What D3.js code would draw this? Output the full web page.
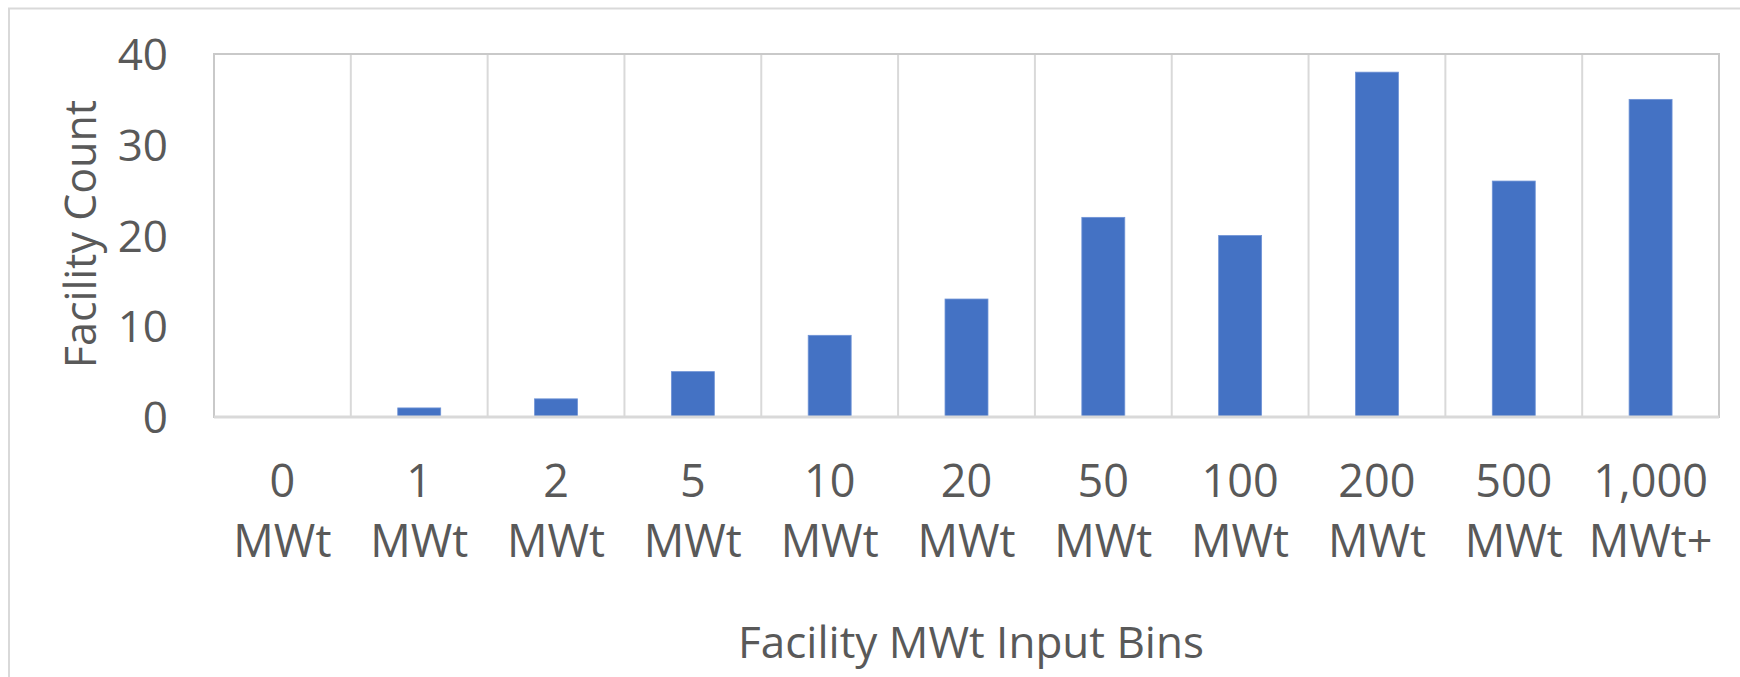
<!DOCTYPE html>
<html>
<head>
    <title>Facility MWt Input Bins</title>
    <style>
        body { margin: 0; background: white; }
        text { font-family: "Open Sans", sans-serif; fill: #595959; }
    </style>
</head>
<body>
    <svg width="1740" height="677"></svg>

    <script src="https://cdn.jsdelivr.net/npm/d3@7"></script>
    <script>
        const binNumbers = ["0", "1", "2", "5", "10", "20", "50", "100", "200", "500", "1,000"];
        const binUnits = ["MWt", "MWt", "MWt", "MWt", "MWt", "MWt", "MWt", "MWt", "MWt", "MWt", "MWt+"];
        const counts = [0, 1, 2, 5, 9, 13, 22, 20, 38, 26, 35];
        const yTicks = [0, 10, 20, 30, 40];

        const svg = d3.select("svg");

        const plotLeft = 214, plotRight = 1719, plotTop = 54, plotBottom = 417;

        // outer chart frame
        svg.append("rect")
            .attr("x", 9).attr("y", 8.5)
            .attr("width", 1760).attr("height", 700)
            .attr("fill", "none")
            .attr("stroke", "#d9d9d9")
            .attr("stroke-width", 2);

        const x = d3.scaleBand()
            .domain(d3.range(counts.length))
            .range([plotLeft, plotRight])
            .padding(0);

        const y = d3.scaleLinear()
            .domain([0, 40])
            .range([plotBottom, plotTop]);

        // vertical gridlines at band edges
        svg.selectAll(".grid")
            .data(d3.range(1, counts.length))
            .enter().append("line")
            .attr("class", "grid")
            .attr("x1", d => x(d)).attr("x2", d => x(d))
            .attr("y1", plotTop).attr("y2", plotBottom)
            .attr("stroke", "#d9d9d9")
            .attr("stroke-width", 2);

        // plot area border
        svg.append("rect")
            .attr("x", plotLeft).attr("y", plotTop)
            .attr("width", plotRight - plotLeft).attr("height", plotBottom - plotTop)
            .attr("fill", "none")
            .attr("stroke", "#c9c9c9")
            .attr("stroke-width", 2);

        const barW = x.bandwidth() * 0.314;

        svg.selectAll(".bar")
            .data(counts)
            .enter().append("rect")
            .attr("class", "bar")
            .attr("x", (d, i) => x(i) + x.bandwidth() / 2 - barW / 2)
            .attr("y", d => y(d))
            .attr("width", barW)
            .attr("height", d => y(0) - y(d))
            .attr("fill", "#4472c4")
            .attr("stroke", d => d > 0 ? "#6f93d6" : "none")
            .attr("stroke-width", 0.8);

        // x axis line
        svg.append("line")
            .attr("x1", plotLeft).attr("x2", plotRight)
            .attr("y1", plotBottom).attr("y2", plotBottom)
            .attr("stroke", "#d9d9d9")
            .attr("stroke-width", 3);

        // y tick labels
        svg.selectAll(".ytick")
            .data(yTicks)
            .enter().append("text")
            .attr("class", "ytick")
            .attr("x", 168)
            .attr("y", d => y(d) + 16)
            .attr("text-anchor", "end")
            .style("font-size", "44px")
            .text(d => d);

        // x tick labels (two lines)
        const xl = svg.selectAll(".xtick")
            .data(binNumbers)
            .enter().append("text")
            .attr("class", "xtick")
            .attr("text-anchor", "middle")
            .style("font-size", "45px");

        xl.append("tspan")
            .attr("x", (d, i) => x(i) + x.bandwidth() / 2)
            .attr("y", 497)
            .text(d => d);

        xl.append("tspan")
            .attr("x", (d, i) => x(i) + x.bandwidth() / 2)
            .attr("y", 557)
            .text((d, i) => binUnits[i]);

        // axis titles
        svg.append("text")
            .attr("x", 971)
            .attr("y", 658)
            .attr("text-anchor", "middle")
            .style("font-size", "44px")
            .text("Facility MWt Input Bins");

        svg.append("text")
            .attr("transform", "translate(96,234) rotate(-90)")
            .attr("text-anchor", "middle")
            .style("font-size", "43px")
            .text("Facility Count");
    </script>
</body>
</html>
